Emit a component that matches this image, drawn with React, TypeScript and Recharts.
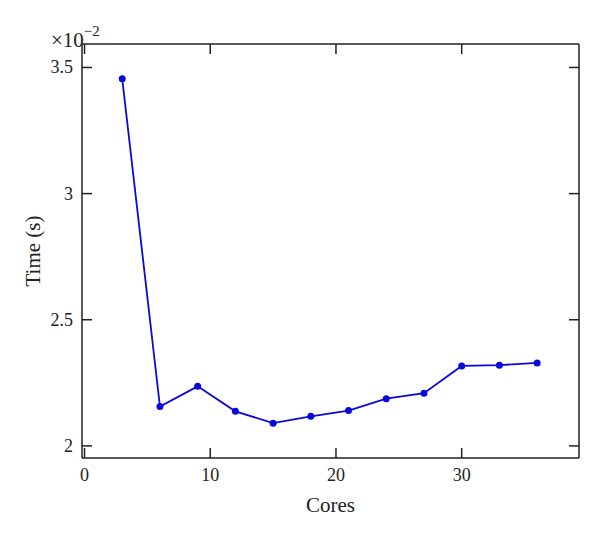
import React from 'react'
import { LineChart, Line, XAxis, YAxis } from 'recharts'

const cores = [3, 6, 9, 12, 15, 18, 21, 24, 27, 30, 33, 36]
const times = [3.455, 2.156, 2.236, 2.137, 2.09, 2.117, 2.14, 2.187, 2.209, 2.317, 2.32, 2.329]
const xTicks = [0, 10, 20, 30]
const yTicks = [2, 2.5, 3, 3.5]

const data = cores.map((c, i) => ({ cores: c, time: times[i] }))

const INK = '#222'
const FONT = '"Liberation Serif", "DejaVu Serif", serif'
const TICK = 10
const X_DOMAIN = [-0.2, 39.33]
const Y_DOMAIN = [1.952, 3.593]

const LeftTick = (props: any) => {
  const { x, y, payload } = props
  return (
    <g>
      <line x1={x + 9} x2={x + 9 + TICK} y1={y} y2={y} stroke={INK} strokeWidth={1.5} />
      <text x={x} y={y + 6} textAnchor="end" fontSize={18} fontFamily={FONT} fill={INK}>
        {String(payload.value)}
      </text>
    </g>
  )
}

const RightTick = (props: any) => {
  const { x, y } = props
  return <line x1={x} x2={x - TICK} y1={y} y2={y} stroke={INK} strokeWidth={1.5} />
}

const BottomTick = (props: any) => {
  const { x, y, payload } = props
  return (
    <g>
      <line x1={x} x2={x} y1={y - 9} y2={y - 9 - TICK} stroke={INK} strokeWidth={1.5} />
      <text x={x} y={y + 14} textAnchor="middle" fontSize={18} fontFamily={FONT} fill={INK}>
        {String(payload.value)}
      </text>
    </g>
  )
}

const TopTick = (props: any) => {
  const { x, y } = props
  return <line x1={x} x2={x} y1={y} y2={y + TICK} stroke={INK} strokeWidth={1.5} />
}

export default function App() {
  return (
    <div style={{ position: 'absolute', left: 0, top: 0, width: 600, height: 538, background: '#fff', fontFamily: FONT }}>
      <LineChart width={600} height={538} data={data} margin={{ top: 43, right: 20, left: 0, bottom: 0 }}>
        <XAxis
          xAxisId="bottom"
          dataKey="cores"
          type="number"
          domain={X_DOMAIN}
          ticks={xTicks}
          height={80}
          tickLine={false}
          tickSize={0}
          tickMargin={9}
          tick={<BottomTick />}
          axisLine={{ stroke: INK, strokeWidth: 1.5 }}
          allowDataOverflow
          label={{ value: 'Cores', position: 'center', dy: 7, fontSize: 21, fill: INK, fontFamily: FONT }}
        />
        <XAxis
          xAxisId="top"
          dataKey="cores"
          orientation="top"
          type="number"
          domain={X_DOMAIN}
          ticks={xTicks}
          height={1}
          tickLine={false}
          tickSize={0}
          tickMargin={0}
          tick={<TopTick />}
          axisLine={{ stroke: INK, strokeWidth: 1.5 }}
          allowDataOverflow
        />
        <YAxis
          yAxisId="left"
          type="number"
          domain={Y_DOMAIN}
          ticks={yTicks}
          width={82}
          tickLine={false}
          tickSize={0}
          tickMargin={9}
          tick={<LeftTick />}
          axisLine={{ stroke: INK, strokeWidth: 1.5 }}
          allowDataOverflow
          label={{ value: 'Time (s)', angle: -90, position: 'center', dx: -8, fontSize: 21, fill: INK, fontFamily: FONT }}
        />
        <YAxis
          yAxisId="right"
          orientation="right"
          type="number"
          domain={Y_DOMAIN}
          ticks={yTicks}
          width={1}
          tickLine={false}
          tickSize={0}
          tickMargin={0}
          tick={<RightTick />}
          axisLine={{ stroke: INK, strokeWidth: 1.5 }}
          allowDataOverflow
        />
        <Line
          xAxisId="top"
          yAxisId="right"
          dataKey="time"
          stroke="none"
          dot={false}
          activeDot={false}
          legendType="none"
          isAnimationActive={false}
        />
        <Line
          xAxisId="bottom"
          yAxisId="left"
          dataKey="time"
          stroke="#0a0ad8"
          strokeWidth={1.8}
          dot={{ r: 3.5, fill: '#0a0ad8', stroke: '#0a0ad8', strokeWidth: 0 }}
          isAnimationActive={false}
        />
      </LineChart>
      <div style={{ position: 'absolute', left: 51, top: 27, fontSize: 21, color: INK, lineHeight: 1, whiteSpace: 'nowrap' }}>
        ×10<sup style={{ fontSize: 15, position: 'relative', top: -3 }}>−2</sup>
      </div>
    </div>
  )
}
